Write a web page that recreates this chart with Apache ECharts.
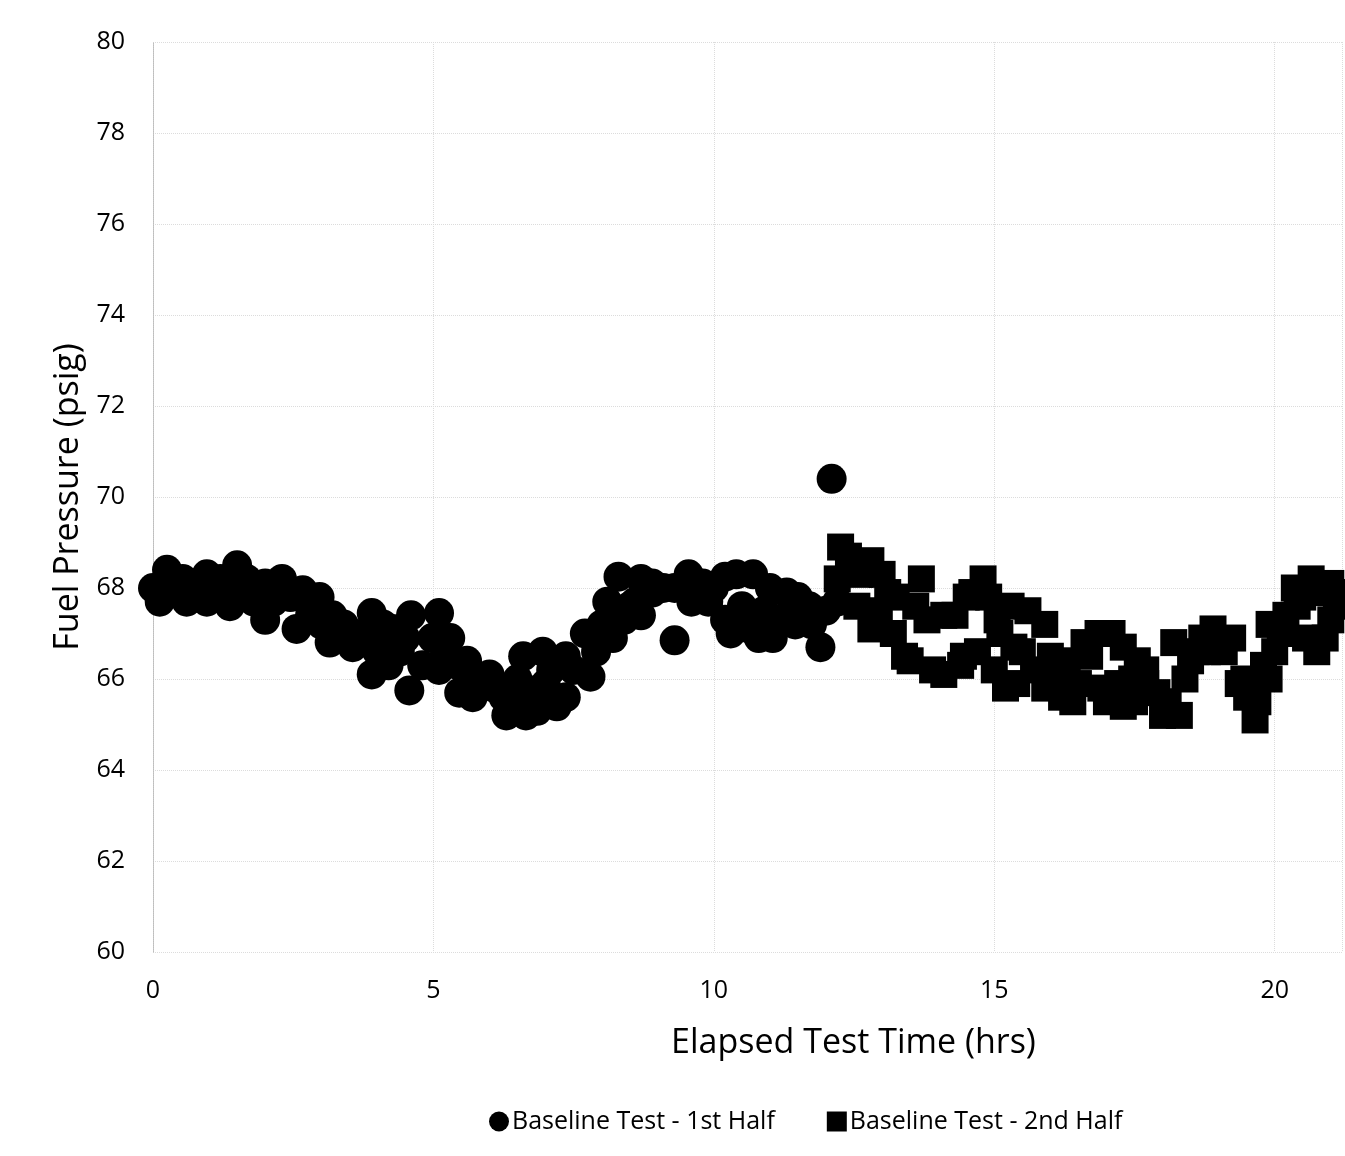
<!DOCTYPE html>
<html>
<head>
<meta charset="utf-8">
<script src="https://cdn.jsdelivr.net/npm/echarts@6/dist/echarts.min.js"></script>
<style>
html,body{margin:0;padding:0;background:#fff;}
#chart{width:1345px;height:1156px;}
</style>
</head>
<body>
<div id="chart"></div>
<script>
// Series 1: Baseline Test - 1st Half (circles)
var time1 = [0, 0.12, 0.25, 0.3, 0.4, 0.53, 0.6, 0.7, 0.8, 0.96, 0.96, 1.0, 1.1, 1.2, 1.3, 1.37, 1.5, 1.55, 1.67, 1.8, 2.0, 2.0, 2.15, 2.3, 2.45, 2.56, 2.67, 2.8, 2.97, 3.0, 3.15, 3.2, 3.3, 3.4, 3.56, 3.7, 3.75, 3.9, 3.9, 4.0, 4.1, 4.2, 4.27, 4.4, 4.5, 4.57, 4.6, 4.8, 4.98, 5.1, 5.1, 5.2, 5.3, 5.45, 5.46, 5.6, 5.7, 5.8, 6.0, 6.1, 6.25, 6.3, 6.4, 6.5, 6.6, 6.65, 6.76, 6.85, 6.95, 7.0, 7.1, 7.2, 7.36, 7.36, 7.5, 7.7, 7.8, 7.9, 8.0, 8.1, 8.2, 8.3, 8.4, 8.5, 8.6, 8.7, 8.7, 8.9, 8.9, 9.1, 9.3, 9.3, 9.55, 9.6, 9.7, 9.8, 9.9, 10.0, 10.2, 10.2, 10.3, 10.4, 10.5, 10.65, 10.7, 10.8, 10.9, 11.0, 11.05, 11.2, 11.3, 11.4, 11.45, 11.5, 11.7, 11.75, 11.9, 12.0, 12.1, 12.2];
var pressure1 = [68.0, 67.7, 68.4, 67.9, 67.9, 68.2, 67.7, 67.9, 68.1, 68.3, 67.7, 68.0, 67.9, 68.2, 68.0, 67.6, 68.5, 67.9, 68.2, 67.7, 68.1, 67.3, 67.7, 68.2, 67.8, 67.1, 67.95, 67.4, 67.8, 67.2, 66.8, 67.4, 66.9, 67.2, 66.7, 66.8, 67.0, 67.45, 66.1, 66.6, 67.2, 66.3, 67.1, 66.6, 66.9, 65.75, 67.4, 66.3, 66.9, 67.45, 66.2, 66.5, 66.9, 66.3, 65.7, 66.4, 65.6, 65.9, 66.1, 65.8, 65.6, 65.2, 65.6, 66.0, 66.5, 65.2, 65.75, 65.3, 66.6, 65.9, 66.2, 65.4, 65.6, 66.5, 66.2, 67.0, 66.05, 66.6, 67.2, 67.7, 66.9, 68.25, 67.3, 67.6, 67.7, 68.2, 67.4, 67.9, 68.1, 68.0, 66.85, 68.0, 68.3, 67.7, 68.1, 68.1, 67.7, 68.0, 68.25, 67.3, 67.0, 68.3, 67.6, 67.1, 68.3, 66.9, 67.5, 68.0, 66.9, 67.3, 67.9, 67.6, 67.2, 67.8, 67.6, 67.2, 66.7, 67.5, 70.4, 67.7];

// Series 2: Baseline Test - 2nd Half (squares)
var time2 = [12.2, 12.26, 12.4, 12.55, 12.6, 12.8, 12.8, 12.95, 13.0, 13.1, 13.2, 13.25, 13.4, 13.5, 13.6, 13.7, 13.8, 13.9, 14.1, 14.1, 14.3, 14.4, 14.45, 14.5, 14.6, 14.7, 14.8, 14.9, 15.0, 15.05, 15.1, 15.2, 15.3, 15.35, 15.4, 15.5, 15.6, 15.7, 15.9, 15.9, 16.0, 16.1, 16.2, 16.3, 16.4, 16.5, 16.6, 16.7, 16.85, 16.9, 17.0, 17.1, 17.2, 17.3, 17.3, 17.45, 17.5, 17.55, 17.7, 17.7, 17.9, 18.0, 18.1, 18.2, 18.3, 18.4, 18.5, 18.6, 18.7, 18.8, 18.9, 19.0, 19.1, 19.25, 19.35, 19.45, 19.5, 19.65, 19.7, 19.8, 19.9, 19.9, 20.0, 20.1, 20.2, 20.35, 20.4, 20.5, 20.55, 20.65, 20.75, 20.8, 20.9, 21.0, 21.0, 21.1, 21.2];
var pressure2 = [68.2, 68.9, 68.7, 67.6, 68.3, 68.6, 67.1, 67.5, 68.3, 67.9, 67.0, 67.8, 66.5, 66.4, 67.6, 68.2, 67.3, 66.2, 66.1, 67.4, 67.4, 66.3, 66.5, 67.8, 67.9, 66.6, 68.2, 67.8, 66.2, 67.3, 67.0, 65.8, 67.6, 66.7, 65.9, 66.6, 67.5, 66.2, 67.2, 65.8, 66.5, 66.0, 65.6, 66.4, 65.5, 65.9, 66.8, 66.5, 67.0, 65.8, 65.5, 67.0, 65.9, 66.7, 65.4, 66.0, 65.5, 66.4, 65.9, 66.2, 65.7, 65.2, 65.5, 66.8, 65.2, 66.0, 66.4, 66.6, 66.9, 66.6, 67.1, 66.8, 66.6, 66.9, 65.9, 66.0, 65.6, 65.1, 65.5, 66.3, 67.2, 66.0, 66.6, 67.0, 67.4, 68.0, 67.6, 67.8, 66.9, 68.2, 66.6, 67.9, 66.9, 68.1, 67.3, 67.6, 67.9];

var yTicks = [60, 62, 64, 66, 68, 70, 72, 74, 76, 78, 80];
var xTicks = [0, 5, 10, 15, 20];

function pairs(xs, ys) {
  var out = [];
  for (var i = 0; i < xs.length; i++) out.push([xs[i], ys[i]]);
  return out;
}

var FONT = '"Open Sans", "Liberation Sans", sans-serif';
var chart = echarts.init(document.getElementById('chart'), null, {renderer: 'canvas'});
chart.setOption({
  animation: false,
  backgroundColor: '#ffffff',
  grid: {left: 153, right: 0, top: 42, bottom: 204, containLabel: false},
  legend: {
    left: 484, top: 1104,
    itemGap: 52, itemWidth: 20, itemHeight: 20,
    textStyle: {fontFamily: FONT, fontSize: 25, color: '#000', padding: [0, 0, 0, -2]},
    data: [
      {name: 'Baseline Test - 1st Half', icon: 'circle'},
      {name: 'Baseline Test - 2nd Half', icon: 'rect'}
    ]
  },
  xAxis: {
    type: 'value', min: 0, max: 21.2, interval: 5,
    name: 'Elapsed Test Time (hrs)', nameLocation: 'middle', nameGap: 74,
    nameTextStyle: {fontFamily: FONT, fontSize: 34, color: '#000', padding: [0, 0, 0, 212]},
    axisLine: {show: false},
    axisTick: {show: false},
    axisLabel: {fontFamily: FONT, fontSize: 25, color: '#000', margin: 26,
      formatter: function (v) { return xTicks.indexOf(v) >= 0 ? String(v) : ''; }},
    splitLine: {show: true, lineStyle: {color: '#dcdcdc', type: 'dotted', width: 1}}
  },
  yAxis: {
    type: 'value', min: 60, max: 80, interval: 2,
    name: 'Fuel Pressure (psig)', nameLocation: 'middle', nameGap: 68,
    nameTextStyle: {fontFamily: FONT, fontSize: 34, color: '#000'},
    axisLine: {show: true, lineStyle: {color: '#bdbdbd', type: 'dotted', width: 1}},
    axisTick: {show: false},
    axisLabel: {fontFamily: FONT, fontSize: 25, color: '#000', margin: 28,
      formatter: function (v) { return yTicks.indexOf(v) >= 0 ? String(v) : ''; }},
    splitLine: {show: true, lineStyle: {color: '#dcdcdc', type: 'dotted', width: 1}}
  },
  series: [
    {
      name: 'Baseline Test - 1st Half', type: 'scatter', symbol: 'circle', symbolSize: 30,
      itemStyle: {color: '#000', opacity: 1},
      data: pairs(time1, pressure1)
    },
    {
      name: 'Baseline Test - 2nd Half', type: 'scatter', symbol: 'rect', symbolSize: 27,
      itemStyle: {color: '#000', opacity: 1},
      data: pairs(time2, pressure2)
    }
  ]
});
</script>
</body>
</html>
